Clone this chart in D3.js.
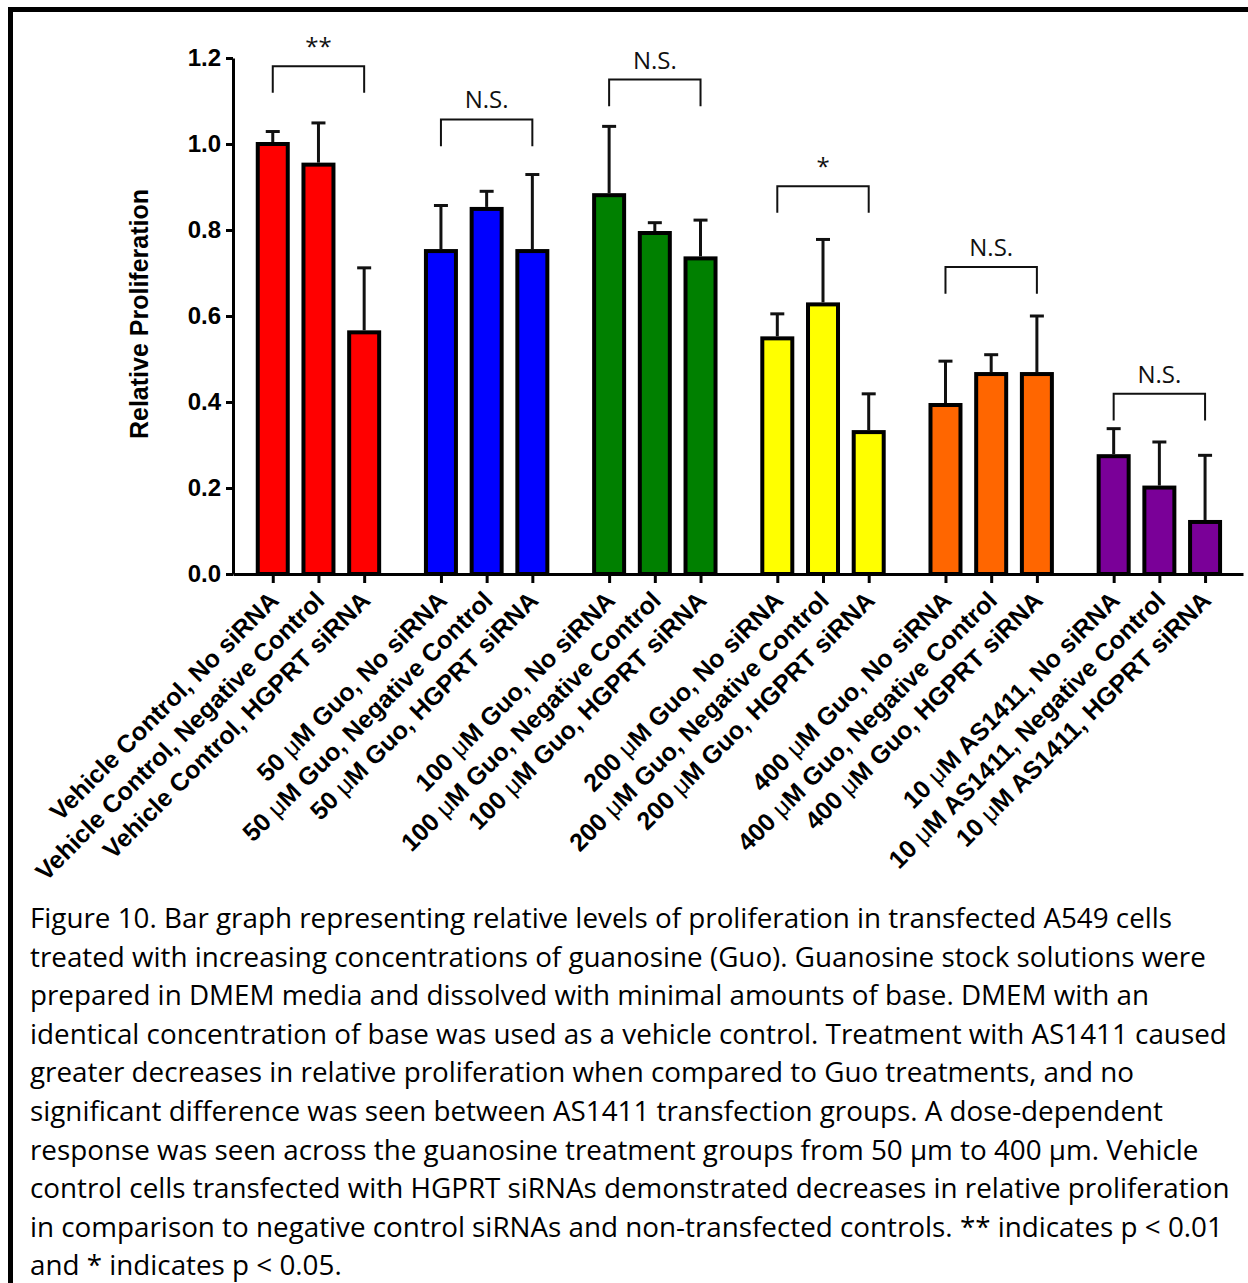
<!DOCTYPE html>
<html>
<head>
<meta charset="utf-8">
<script src="https://cdn.jsdelivr.net/npm/d3@7"></script>
<style>
  body { margin: 0; background: #fff; }
  .axis text { font-family: "Liberation Sans", Arial, sans-serif; font-weight: bold; fill: #000; }
  .sig { font-family: "Open Sans", sans-serif; font-size: 24px; fill: #111; }
  .caption { font-family: "Open Sans", sans-serif; font-size: 27.8px; fill: #000; }
</style>
</head>
<body>
<svg id="chart" width="1248" height="1283"></svg>
<script>
// Data
var groups = ["Vehicle Control", "50 \u03bcM Guo", "100 \u03bcM Guo", "200 \u03bcM Guo", "400 \u03bcM Guo", "10 \u03bcM AS1411"];
var treatments = ["No siRNA", "Negative Control", "HGPRT siRNA"];
var colors = ["#ff0000", "#0000ff", "#008000", "#ffff00", "#ff6600", "#7a0098"];
var means = [1.000, 0.952, 0.562,
             0.751, 0.849, 0.751,
             0.881, 0.793, 0.734,
             0.548, 0.627, 0.330,
             0.393, 0.465, 0.465,
             0.274, 0.201, 0.121];
var errs = [0.029, 0.097, 0.150,
            0.106, 0.041, 0.178,
            0.160, 0.024, 0.089,
            0.057, 0.151, 0.089,
            0.102, 0.045, 0.135,
            0.064, 0.106, 0.155];
var sigLabels = ["**", "N.S.", "N.S.", "*", "N.S.", "N.S."];
var sigHeights = [1.181, 1.057, 1.150, 0.902, 0.714, 0.419];
var yTicks = [0, 0.2, 0.4, 0.6, 0.8, 1.0, 1.2];
var caption = [
  "Figure 10. Bar graph representing relative levels of proliferation in transfected A549 cells",
  "treated with increasing concentrations of guanosine (Guo). Guanosine stock solutions were",
  "prepared in DMEM media and dissolved with minimal amounts of base. DMEM with an",
  "identical concentration of base was used as a vehicle control. Treatment with AS1411 caused",
  "greater decreases in relative proliferation when compared to Guo treatments, and no",
  "significant difference was seen between AS1411 transfection groups. A dose-dependent",
  "response was seen across the guanosine treatment groups from 50 \u00b5m to 400 \u00b5m. Vehicle",
  "control cells transfected with HGPRT siRNAs demonstrated decreases in relative proliferation",
  "in comparison to negative control siRNAs and non-transfected controls. ** indicates p < 0.01",
  "and * indicates p < 0.05."
];

// build rows
var groupStep = 3.68; // slots per group (3 bars + gap)
var rows = [];
groups.forEach(function(g, gi) {
  treatments.forEach(function(t, ti) {
    var k = gi * 3 + ti;
    rows.push({label: g + ", " + t, group: gi, item: ti, slot: gi * groupStep + ti,
               mean: means[k], err: errs[k], color: colors[gi]});
  });
});

var svg = d3.select("#chart");

// frame
svg.append("path")
    .attr("d", "M10.5,1283V9.5H1248")
    .attr("fill", "none")
    .attr("stroke", "#000")
    .attr("stroke-width", 5);

var x = d3.scaleLinear()
    .domain([-0.87, 21.23])
    .range([233, 1243]);
var y = d3.scaleLinear()
    .domain([0, 1.2])
    .range([574, 58]);

// bars
svg.append("g").selectAll("rect")
    .data(rows)
  .enter().append("rect")
    .attr("x", function(d) { return x(d.slot) - 15; })
    .attr("y", function(d) { return y(d.mean); })
    .attr("width", 30)
    .attr("height", function(d) { return y(0) - y(d.mean); })
    .attr("fill", function(d) { return d.color; })
    .attr("stroke", "#000")
    .attr("stroke-width", 4);

// error bars (upper only)
var eb = svg.append("g").attr("stroke", "#111").attr("stroke-width", 3);
eb.selectAll(".ev")
    .data(rows)
  .enter().append("line")
    .attr("class", "ev")
    .attr("x1", function(d) { return x(d.slot); })
    .attr("x2", function(d) { return x(d.slot); })
    .attr("y1", function(d) { return y(d.mean) - 2; })
    .attr("y2", function(d) { return y(d.mean + d.err); });
eb.selectAll(".ec")
    .data(rows)
  .enter().append("line")
    .attr("class", "ec")
    .attr("x1", function(d) { return x(d.slot) - 7; })
    .attr("x2", function(d) { return x(d.slot) + 7; })
    .attr("y1", function(d) { return y(d.mean + d.err); })
    .attr("y2", function(d) { return y(d.mean + d.err); });

// axes
var xAxis = svg.append("g")
    .attr("class", "axis")
    .attr("transform", "translate(0," + y(0) + ")")
    .call(d3.axisBottom(x)
      .tickValues(rows.map(function(d) { return d.slot; }))
      .tickFormat(function(d, i) { return rows[i].label; })
      .tickSize(9)
      .tickSizeOuter(0));
xAxis.select(".domain").attr("stroke-width", 3);
xAxis.selectAll(".tick line").attr("stroke-width", 3);
xAxis.selectAll("text")
    .attr("x", 0).attr("y", 0).attr("dy", 0)
    .attr("transform", "translate(7,28) rotate(-45)")
    .style("text-anchor", "end")
    .style("font-size", "25px")
    .each(function() {
      // mu drawn thin, like a symbol font
      var t = d3.select(this), parts = t.text().split("\u03bc");
      if (parts.length < 2) return;
      t.text(null);
      t.append("tspan").text(parts[0]);
      t.append("tspan").style("font-weight", "normal").text("\u03bc");
      t.append("tspan").text(parts[1]);
    });

var yAxis = svg.append("g")
    .attr("class", "axis")
    .attr("transform", "translate(" + x.range()[0] + ",0)")
    .call(d3.axisLeft(y)
      .tickValues(yTicks)
      .tickFormat(d3.format(".1f"))
      .tickSize(7)
      .tickPadding(5)
      .tickSizeOuter(0));
yAxis.select(".domain").attr("stroke-width", 3);
yAxis.selectAll(".tick line").attr("stroke-width", 3);
yAxis.selectAll("text").style("font-size", "24px");

svg.append("text")
    .attr("class", "axis")
    .attr("transform", "translate(148,314) rotate(-90)")
    .attr("text-anchor", "middle")
    .style("font-family", "Liberation Sans, Arial, sans-serif")
    .style("font-weight", "bold")
    .style("font-size", "25px")
    .text("Relative Proliferation");

// significance brackets
var sig = svg.append("g");
groups.forEach(function(g, gi) {
  var x1 = x(gi * groupStep), x2 = x(gi * groupStep + 2);
  var top = y(sigHeights[gi]), leg = y(sigHeights[gi] - 0.062);
  sig.append("path")
      .attr("d", "M" + x1 + "," + leg + "V" + top + "H" + x2 + "V" + leg)
      .attr("fill", "none")
      .attr("stroke", "#111")
      .attr("stroke-width", 2);
  sig.append("text")
      .attr("class", "sig")
      .attr("x", (x1 + x2) / 2)
      .attr("y", top - 11)
      .attr("text-anchor", "middle")
      .text(sigLabels[gi]);
});

// caption
svg.append("g").selectAll("text")
    .data(caption)
  .enter().append("text")
    .attr("class", "caption")
    .attr("x", 30)
    .attr("y", function(d, i) { return 928 + i * 38.6; })
    .text(function(d) { return d; });
</script>
</body>
</html>
